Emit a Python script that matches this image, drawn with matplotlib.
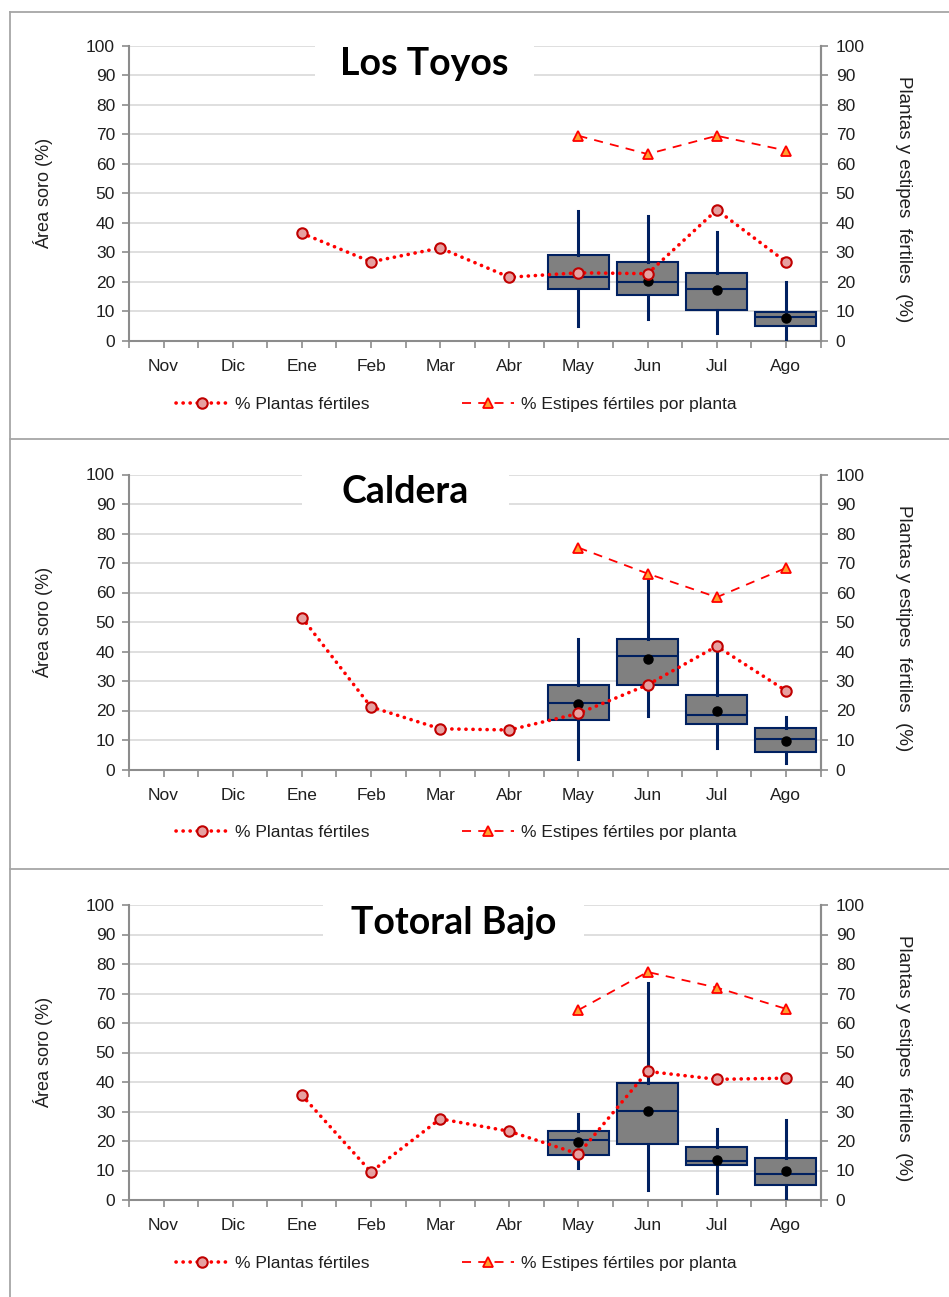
import matplotlib
matplotlib.use("Agg")
import matplotlib.pyplot as plt
from matplotlib.patches import Rectangle
from matplotlib.lines import Line2D
from matplotlib import font_manager

months = ["Nov", "Dic", "Ene", "Feb", "Mar", "Abr", "May", "Jun", "Jul", "Ago"]
sites = ["Los Toyos", "Caldera", "Totoral Bajo"]

# % Plantas fértiles (Ene..Ago)
plantas_toyos = [None, None, 36.5, 26.8, 31.5, 21.6, 23.1, 22.8, 44.4, 26.8]
plantas_caldera = [None, None, 51.5, 21.2, 13.8, 13.4, 19.0, 28.7, 41.8, 26.7]
plantas_totoral = [None, None, 35.5, 9.5, 27.5, 23.3, 15.6, 43.6, 40.9, 41.3]

# % Estipes fértiles por planta (May..Ago)
estipes_toyos = [None, None, None, None, None, None, 69.5, 63.3, 69.5, 64.5]
estipes_caldera = [None, None, None, None, None, None, 75.2, 66.4, 58.4, 68.3]
estipes_totoral = [None, None, None, None, None, None, 64.4, 77.3, 72.0, 64.8]

# Área soro box statistics (May, Jun, Jul, Ago)
box_months = ["May", "Jun", "Jul", "Ago"]
toyos_q1 = [17.6, 15.5, 10.4, 5.0]
toyos_med = [21.6, 20.1, 17.6, 8.0]
toyos_q3 = [29.2, 26.7, 23.1, 9.9]
toyos_lo = [5.0, 7.5, 2.6, 0.0]
toyos_hi = [44.0, 42.3, 36.8, 19.9]
toyos_mean = [23.0, 20.4, 17.2, 7.8]

caldera_q1 = [16.9, 28.6, 15.5, 5.9]
caldera_med = [22.6, 38.4, 18.5, 10.3]
caldera_q3 = [28.6, 44.4, 25.1, 13.9]
caldera_lo = [3.4, 18.1, 7.2, 2.1]
caldera_hi = [44.1, 66.1, 41.6, 17.9]
caldera_mean = [22.3, 37.3, 19.7, 9.8]

totoral_q1 = [15.4, 19.0, 11.8, 5.1]
totoral_med = [20.3, 30.1, 13.3, 8.8]
totoral_q3 = [23.4, 39.7, 17.9, 14.4]
totoral_lo = [11.0, 3.3, 2.5, 0.8]
totoral_hi = [29.0, 73.4, 24.0, 27.0]
totoral_mean = [19.7, 30.2, 13.4, 9.8]

y_ticks = [0, 10, 20, 30, 40, 50, 60, 70, 80, 90, 100]

names = {f.name for f in font_manager.fontManager.ttflist}
base_font = "Liberation Sans" if "Liberation Sans" in names else "DejaVu Sans"
title_font = "Lato" if "Lato" in names else base_font
plt.rcParams["font.family"] = [base_font, "DejaVu Sans"]

W, H = 949, 1297
fig = plt.figure(figsize=(W / 100, H / 100), dpi=100)

NAVY = "#002060"
GRID = "#D9D9D9"
AXC = "#8C8C8C"
TXT = "#1F1F1F"
FS = 12.5

panels = [
    dict(title=sites[0], plantas=plantas_toyos, estipes=estipes_toyos,
         q1=toyos_q1, med=toyos_med, q3=toyos_q3, lo=toyos_lo, hi=toyos_hi, mean=toyos_mean,
         top=45.7, bottom=341.0, border=12, tbox=(315, 534)),
    dict(title=sites[1], plantas=plantas_caldera, estipes=estipes_caldera,
         q1=caldera_q1, med=caldera_med, q3=caldera_q3, lo=caldera_lo, hi=caldera_hi, mean=caldera_mean,
         top=474.5, bottom=769.5, border=439, tbox=(302, 509)),
    dict(title=sites[2], plantas=plantas_totoral, estipes=estipes_totoral,
         q1=totoral_q1, med=totoral_med, q3=totoral_q3, lo=totoral_lo, hi=totoral_hi, mean=totoral_mean,
         top=905.0, bottom=1200.0, border=869, tbox=(323, 584)),
]

AX_L, AX_R = 129, 820.5

# panel border lines
for p in panels:
    fig.add_artist(Line2D([10 / W, 1.0], [1 - p["border"] / H] * 2, color="#A6A6A6", lw=1.3,
                          transform=fig.transFigure))
fig.add_artist(Line2D([10 / W, 10 / W], [1 - 12 / H, 0], color="#A6A6A6", lw=1.3,
                      transform=fig.transFigure))

for p in panels:
    ax = fig.add_axes([AX_L / W, 1 - p["bottom"] / H, (AX_R - AX_L) / W, (p["bottom"] - p["top"]) / H])
    ax.set_xlim(-0.5, len(months) - 0.5)
    ax.set_ylim(0, 100)
    ax.set_yticks(y_ticks)
    ax.yaxis.grid(True, color=GRID, lw=1.2, zorder=0)
    ax.set_axisbelow(True)
    ax.set_xticks(range(len(months)))
    ax.set_xticklabels(months, fontsize=FS, color=TXT)
    ax.set_xticks([i - 0.5 for i in range(len(months) + 1)], minor=True)
    ax.tick_params(axis="x", which="both", length=5, color=AXC, width=1.2, pad=8)
    ax.tick_params(axis="y", length=5, color=AXC, width=1.2, labelsize=FS, labelcolor=TXT, pad=5)
    ax.spines["top"].set_visible(False)
    for s in ["left", "bottom", "right"]:
        ax.spines[s].set_color(AXC)
        ax.spines[s].set_linewidth(1.5)

    ax2 = ax.twinx()
    ax2.set_ylim(0, 100)
    ax2.set_yticks(y_ticks)
    ax2.tick_params(axis="y", length=5, color=AXC, width=1.2, labelsize=FS, labelcolor=TXT, pad=6)
    for s in ["top", "left", "bottom"]:
        ax2.spines[s].set_visible(False)
    ax2.spines["right"].set_color(AXC)
    ax2.spines["right"].set_linewidth(1.5)

    ax.set_ylabel("Área soro (%)", fontsize=13, color=TXT)
    ax2.set_ylabel("Plantas y estipes  fértiles  (%)", fontsize=13.5, color=TXT, rotation=-90)
    ax.yaxis.set_label_coords(-0.125, 0.5)
    ax2.yaxis.set_label_coords(1.12, 0.48)
    ax.yaxis.label.set_va("center")
    ax2.yaxis.label.set_va("center")

    # boxes
    stats = []
    for i in range(len(box_months)):
        stats.append(dict(q1=p["q1"][i], med=p["med"][i], q3=p["q3"][i],
                          whislo=p["lo"][i], whishi=p["hi"][i], mean=p["mean"][i], fliers=[]))
    pos = [months.index(m) for m in box_months]
    ax.bxp(stats, positions=pos, widths=0.88, patch_artist=True, showmeans=True, showcaps=False,
           showfliers=False, manage_ticks=False,
           boxprops=dict(facecolor="#808080", edgecolor=NAVY, linewidth=1.5),
           medianprops=dict(color=NAVY, linewidth=1.5),
           whiskerprops=dict(color=NAVY, linewidth=2.2),
           meanprops=dict(marker="o", markerfacecolor="black", markeredgecolor="black", markersize=6.5),
           zorder=3)

    xs_p = [i for i, v in enumerate(p["plantas"]) if v is not None]
    ys_p = [v for v in p["plantas"] if v is not None]
    l1, = ax.plot(xs_p, ys_p, linestyle=(0, (0.05, 1.9)), color="#FF0000", lw=2.6,
                  dash_capstyle="round", marker="o", markersize=7.5, markerfacecolor="#E6A1A1",
                  markeredgecolor="#C00000", markeredgewidth=1.5, zorder=5)
    xs_e = [i for i, v in enumerate(p["estipes"]) if v is not None]
    ys_e = [v for v in p["estipes"] if v is not None]
    l2, = ax.plot(xs_e, ys_e, linestyle=(0, (5, 4)), color="#FF0000", lw=1.3,
                  marker="^", markersize=7, markerfacecolor="#FFA030",
                  markeredgecolor="#FF0000", markeredgewidth=1.3, zorder=5)

    # title with white background box
    def px2x(px):
        return (px - AX_L) / (AX_R - AX_L) * len(months) - 0.5
    def py2y(py):
        return (p["bottom"] - py) / (p["bottom"] - p["top"]) * 100
    x0, x1 = px2x(p["tbox"][0]), px2x(p["tbox"][1])
    ax.add_patch(Rectangle((x0, py2y(p["top"] + 40)), x1 - x0, py2y(p["top"] - 7) - py2y(p["top"] + 40),
                           facecolor="white", edgecolor="none", zorder=1.5, clip_on=False))
    ax.text((x0 + x1) / 2, 90.2, p["title"], fontsize=27, fontweight="bold", family=title_font,
            ha="center", va="baseline", zorder=6)

    # legend below
    ly = 1 - (p["bottom"] + 63) / H
    leg = fig.legend([l1, l2], ["% Plantas fértiles", "% Estipes fértiles por planta"],
                     loc="center left", bbox_to_anchor=(176 / W, ly), ncol=2, frameon=False,
                     fontsize=FS, handlelength=3.0, handletextpad=0.4, columnspacing=5.3,
                     borderpad=0, borderaxespad=0, numpoints=1)
    for t in leg.get_texts():
        t.set_color(TXT)

fig.savefig("out.png", dpi=100)
